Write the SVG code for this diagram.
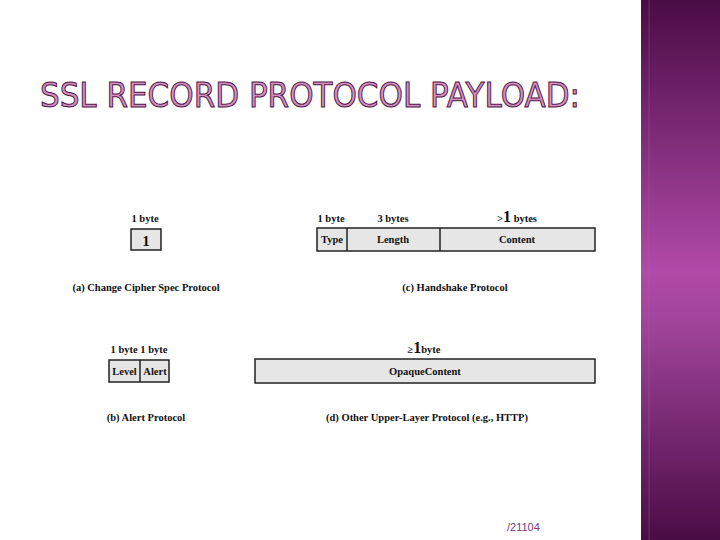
<svg xmlns="http://www.w3.org/2000/svg" width="720" height="540" viewBox="0 0 720 540">
<defs>
<linearGradient id="side" x1="0" y1="0" x2="0" y2="1">
<stop offset="0" stop-color="#4a0c45"/>
<stop offset="0.5" stop-color="#b04aa8"/>
<stop offset="0.6" stop-color="#a0449a"/>
<stop offset="1" stop-color="#4a0c45"/>
</linearGradient>
<style>
.t{font-family:"Liberation Serif","Times New Roman",serif;font-weight:bold;font-size:10.5px;fill:#111;text-anchor:middle}
.box{fill:#e6e6e6;stroke:#222;stroke-width:1.5}
.div{stroke:#222;stroke-width:1.5}
.title{font-family:"DejaVu Sans","Liberation Sans",sans-serif;font-size:33px;fill:#d391c1;stroke:#4e1446;stroke-width:1}
</style>
</defs>
<rect width="720" height="540" fill="#ffffff"/>
<rect x="641" y="0" width="79" height="540" fill="url(#side)"/>
<line x1="649" y1="0" x2="649" y2="540" stroke="#c060b8" stroke-opacity="0.35" stroke-width="1"/>
<text class="title" x="40" y="107" textLength="540" lengthAdjust="spacingAndGlyphs">SSL RECORD PROTOCOL PAYLOAD:</text>

<g id="a">
<text class="t" x="145" y="222">1 byte</text>
<rect class="box" x="131" y="229" width="30" height="21"/>
<text class="t" x="146" y="246" style="font-size:15px">1</text>
<text class="t" x="146" y="291">(a) Change Cipher Spec Protocol</text>
</g>

<g id="c">
<text class="t" x="331" y="222">1 byte</text>
<text class="t" x="393" y="222">3 bytes</text>
<text class="t" x="517" y="222">&gt;<tspan style="font-size:16px">1</tspan> bytes</text>
<rect class="box" x="317" y="228" width="278" height="23"/>
<line class="div" x1="347" y1="228" x2="347" y2="251"/>
<line class="div" x1="440" y1="228" x2="440" y2="251"/>
<text class="t" x="332" y="243">Type</text>
<text class="t" x="393" y="243">Length</text>
<text class="t" x="517" y="243">Content</text>
<text class="t" x="455" y="291">(c) Handshake Protocol</text>
</g>

<g id="b">
<text class="t" x="139" y="353">1 byte  1 byte</text>
<rect class="box" x="109" y="360" width="60" height="22"/>
<line class="div" x1="140" y1="360" x2="140" y2="382"/>
<text class="t" x="124.500" y="375">Level</text>
<text class="t" x="155" y="375">Alert</text>
<text class="t" x="146" y="421">(b) Alert Protocol</text>
</g>

<g id="d">
<text class="t" x="424" y="353">≥<tspan style="font-size:16px">1</tspan>byte</text>
<rect class="box" x="255" y="359" width="340" height="24"/>
<text class="t" x="425" y="375">OpaqueContent</text>
<text class="t" x="427" y="421">(d) Other Upper-Layer Protocol (e.g., HTTP)</text>
</g>

<text x="507" y="531" style="font-family:'Liberation Sans',Arial,sans-serif;font-size:11px;fill:#7a3a7a">/21104</text>
</svg>
